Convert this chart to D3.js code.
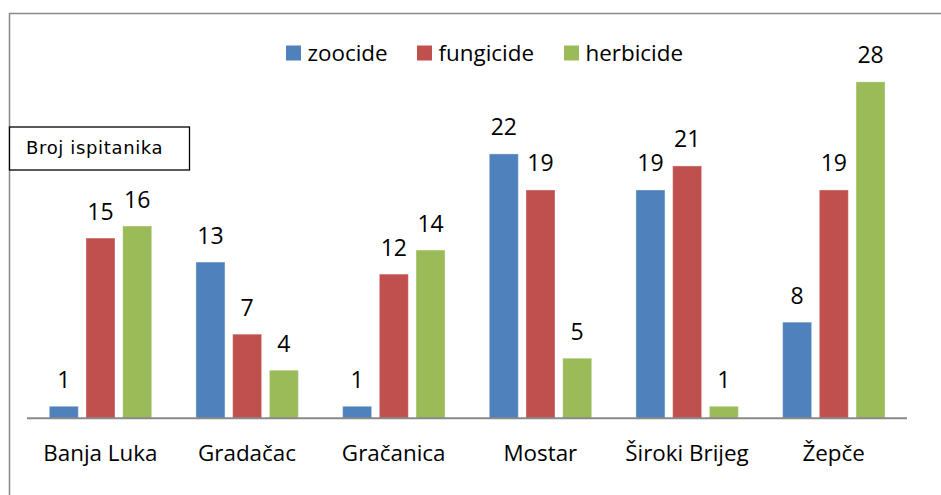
<!DOCTYPE html>
<html><head><meta charset="utf-8">
<script src="https://cdn.jsdelivr.net/npm/d3@7"></script>
<style>html,body{margin:0;padding:0;background:#fff;}svg{display:block;}</style>
</head><body>
<script>
const categories = ["Banja Luka", "Gradačac", "Gračanica", "Mostar", "Široki Brijeg", "Žepče"];
const seriesNames = ["zoocide", "fungicide", "herbicide"];
const zoocide = [1, 13, 1, 22, 19, 8];
const fungicide = [15, 7, 12, 19, 21, 19];
const herbicide = [16, 4, 14, 5, 1, 28];
const colors = ["#4F81BD", "#C0504D", "#9BBB59"];
const yLabel = "Broj ispitanika";

const values = [zoocide, fungicide, herbicide];
const W = 941, H = 495;
const font = "'Open Sans', sans-serif";
const svg = d3.select("body").append("svg").attr("width", W).attr("height", H);

// outer frame (top and left visible)
svg.append("path").attr("d", "M9.5,495 V13.5 H941").attr("fill", "none").attr("stroke", "#898989").attr("stroke-width", 1.5);

const x = d3.scaleBand().domain(categories).range([27, 907]).padding(0);
const xi = d3.scaleBand().domain(seriesNames).range([22.3, 124.7]).paddingInner(0.21).paddingOuter(0);
const y = d3.scaleLinear().domain([0, 30]).range([418.3, 57.8]);

const data = [];
categories.forEach((c, i) => seriesNames.forEach((s, j) => data.push({c, s, j, v: values[j][i]})));

const g = svg.append("g");
g.selectAll("rect").data(data).join("rect")
  .attr("x", d => x(d.c) + xi(d.s))
  .attr("y", d => y(d.v))
  .attr("width", xi.bandwidth())
  .attr("height", d => y(0) - y(d.v))
  .attr("fill", d => colors[d.j])
  .attr("stroke", "rgba(255,255,255,0.35)")
  .attr("stroke-width", 1);

g.selectAll("text.val").data(data).join("text").attr("class", "val")
  .attr("x", d => x(d.c) + xi(d.s) + xi.bandwidth() / 2)
  .attr("y", d => y(d.v) - 18.5)
  .attr("text-anchor", "middle")
  .attr("font-family", font).attr("font-size", 23).attr("fill", "#000")
  .text(d => d.v);

// x axis
const xAxis = d3.axisBottom(x).tickSize(0).tickPadding(0);
const ax = svg.append("g").attr("transform", `translate(0,${y(0)})`).call(xAxis);
ax.select(".domain").attr("stroke", "#898989").attr("stroke-width", 2).attr("d", "M27,0H907");
ax.selectAll("text").attr("font-family", font).attr("font-size", 22.4).attr("fill", "#000")
  .attr("dy", null).attr("y", 43);

// legend
const legX = [286, 417, 564];
const leg = svg.append("g");
seriesNames.forEach((s, j) => {
  leg.append("rect").attr("x", legX[j]).attr("y", 45.5).attr("width", 15).attr("height", 15).attr("fill", colors[j]);
  leg.append("text").attr("x", legX[j] + 21.5).attr("y", 60.5)
    .attr("font-family", font).attr("font-size", 22.4).attr("fill", "#000").text(s);
});

// y label box
svg.append("rect").attr("x", 9.5).attr("y", 127).attr("width", 180).attr("height", 43)
  .attr("fill", "#fff").attr("stroke", "#000").attr("stroke-width", 1.3);
svg.append("text").attr("x", 26).attr("y", 154)
  .attr("font-family", "'DejaVu Sans', sans-serif").attr("font-size", 18).attr("fill", "#000")
  .attr("letter-spacing", 0.65).text(yLabel);
</script>
</body></html>
